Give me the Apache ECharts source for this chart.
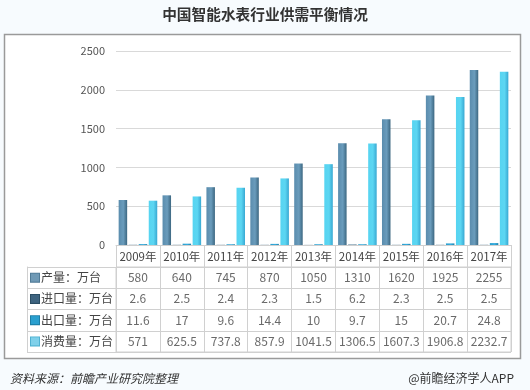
<!DOCTYPE html>
<html><head><meta charset="utf-8">
<script src="https://cdn.jsdelivr.net/npm/echarts@6/dist/echarts.min.js"></script>
<style>html,body{margin:0;padding:0;background:#f7fbfe}#c{width:530px;height:390px}</style>
</head><body><div id="c"></div>
<script>
var years = ['2009年','2010年','2011年','2012年','2013年','2014年','2015年','2016年','2017年'];
var seriesNames = ['产量：万台','进口量：万台','出口量：万台','消费量：万台'];
var production = [580, 640, 745, 870, 1050, 1310, 1620, 1925, 2255];
var imports = [2.6, 2.5, 2.4, 2.3, 1.5, 6.2, 2.3, 2.5, 2.5];
var exports = [11.6, 17, 9.6, 14.4, 10, 9.7, 15, 20.7, 24.8];
var consumption = [571, 625.5, 737.8, 857.9, 1041.5, 1306.5, 1607.3, 1906.8, 2232.7];
var yTicks = [0, 500, 1000, 1500, 2000, 2500];

var allValues = [production, imports, exports, consumption];
var FONT = '"Noto Sans CJK SC", "Noto Sans", sans-serif';
function hg(a, b, c) {
  return new echarts.graphic.LinearGradient(0, 0, 1, 0, [
    {offset: 0, color: a}, {offset: 0.55, color: b}, {offset: 1, color: c}]);
}
var barColors = [
  hg('#5a8cad', '#6a9cbc', '#3c6781'),
  hg('#3f6c89', '#4a7896', '#2f556d'),
  hg('#2a9dcb', '#36ade0', '#1f84ad'),
  hg('#56d4f1', '#5cd6f2', '#38a8d2')
];
var squareColors = ['#6f99b5', '#3e6480', '#2a9fcf', '#7fd0ea'];
var squareBorders = ['#4f7a96', '#2b4d63', '#1c7ea6', '#4fb1d1'];

var cellData = [];
for (var r = 0; r < allValues.length; r++) {
  for (var i = 0; i < years.length; i++) {
    cellData.push([years[i], seriesNames[r], allValues[r][i]]);
  }
}

var rich = {};
for (var k = 0; k < 4; k++) {
  rich['s' + k] = {width: 8, height: 8, backgroundColor: squareColors[k], borderColor: squareBorders[k], borderWidth: 1};
}
rich.t = {fontSize: 12, color: '#444', fontFamily: FONT, padding: [0, 0, 0, 2]};

var chart = echarts.init(document.getElementById('c'), null, {renderer: 'canvas'});
var series = [];
for (var s = 0; s < 4; s++) {
  series.push({
    name: seriesNames[s], type: 'bar', xAxisIndex: 0, yAxisIndex: 0,
    data: allValues[s], barWidth: 8.5, barGap: '18%',
    itemStyle: {color: barColors[s]}
  });
}
series.push({
  type: 'scatter', xAxisIndex: 1, yAxisIndex: 1, symbolSize: 0, silent: true,
  data: cellData,
  label: {show: true, position: 'inside', formatter: function (p) { return String(p.value[2]); },
    fontSize: 12, color: '#444', fontFamily: FONT}
});

chart.setOption({
  animation: false,
  backgroundColor: '#f7fbfe',
  title: {text: '中国智能水表行业供需平衡情况', left: 'center', top: 2,
    textStyle: {fontSize: 14.7, fontWeight: 'bold', color: '#333', fontFamily: FONT}},
  graphic: [
    {type: 'rect', z: -10, shape: {x: 4.5, y: 34.5, width: 516, height: 324},
      style: {fill: '#ffffff', stroke: '#9a9a9a', lineWidth: 1.5}},
    {type: 'text', left: 10, top: 372, style: {text: '资料来源：前瞻产业研究院整理', fill: '#333',
      font: 'italic 12px ' + FONT}},
    {type: 'text', right: 16, top: 372, style: {text: '@前瞻经济学人APP', fill: '#333',
      font: '12px ' + FONT}}
  ],
  grid: [
    {left: 116, right: 19, top: 51, height: 194},
    {left: 116, right: 19, top: 267, height: 85, show: true, borderColor: '#d0d0d0', borderWidth: 1}
  ],
  xAxis: [
    {type: 'category', gridIndex: 0, data: years,
      axisLine: {lineStyle: {color: '#cfcfcf'}},
      axisTick: {show: true, interval: 0, length: 22, lineStyle: {color: '#d0d0d0'}},
      axisLabel: {interval: 0, hideOverlap: false, margin: 6, fontSize: 11.5, color: '#444', fontFamily: FONT}},
    {type: 'category', gridIndex: 1, data: years,
      axisLine: {show: false}, axisTick: {show: false}, axisLabel: {show: false},
      splitLine: {show: true, interval: 0, lineStyle: {color: '#d0d0d0'}}}
  ],
  yAxis: [
    {type: 'value', gridIndex: 0, min: 0, max: 2500, interval: 500,
      axisLine: {show: false}, axisTick: {show: false},
      axisLabel: {margin: 11, fontSize: 11, color: '#555', fontFamily: FONT,
        formatter: function (v) { return yTicks.indexOf(v) >= 0 ? String(v) : ''; }},
      splitLine: {lineStyle: {color: '#d9d9d9'}}},
    {type: 'category', gridIndex: 1, data: seriesNames, inverse: true,
      axisLine: {show: true, lineStyle: {color: '#d0d0d0'}},
      axisTick: {show: true, interval: 0, length: 89, lineStyle: {color: '#d0d0d0'}},
      splitLine: {show: true, interval: 0, lineStyle: {color: '#d0d0d0'}},
      axisLabel: {interval: 0, align: 'left', margin: 85,
        formatter: function (v) { var idx = seriesNames.indexOf(v); return '{s' + idx + '|}{t|' + v + '}'; },
        rich: rich}},
    {type: 'category', gridIndex: 1, data: seriesNames, inverse: true, position: 'left', offset: 89,
      axisLine: {show: true, lineStyle: {color: '#d0d0d0'}},
      axisTick: {show: false}, axisLabel: {show: false}}
  ],
  series: series
});
</script></body></html>
